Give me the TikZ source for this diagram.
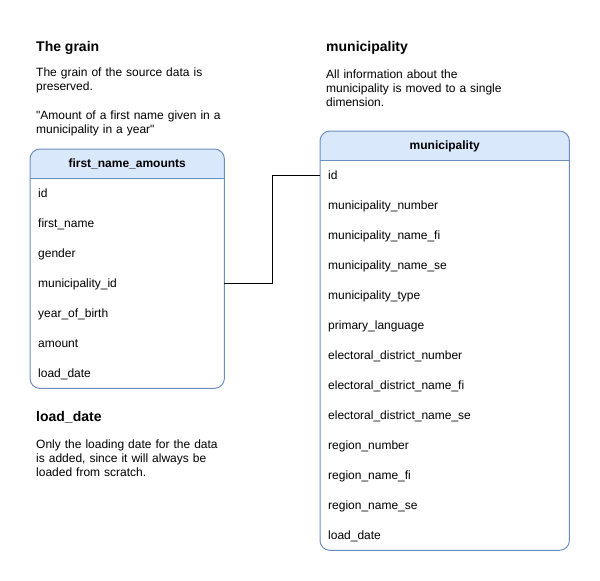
\documentclass[tikz,border=0pt]{standalone}
\usepackage{fontspec}
\setmainfont{Liberation Sans}[Ligatures=TeXOff]
\usepackage{tikz}
\usetikzlibrary{backgrounds}
\definecolor{tabline}{HTML}{6C8EBF}
\definecolor{tabhead}{HTML}{DAE8FC}
\tikzstyle{link} = [line width=1pt, draw=black]
\tikzstyle{frame} = [draw=tabline, line width=1pt, rounded corners=10pt]
\tikzstyle{headcell} = [rectangle, minimum height=29pt, inner sep=0pt, text height=9pt,
text depth=1pt, anchor=north west, font=\fontsize{12}{14.4}\selectfont\bfseries]
\tikzstyle{rowcell} = [rectangle, minimum height=30pt, inner xsep=8pt, inner ysep=0pt,
text height=9pt, text depth=1pt, align=left, font=\fontsize{12}{14.4}\selectfont]
\tikzstyle{heading} = [anchor=base west, inner sep=0pt, font=\fontsize{14}{16.8}\selectfont\bfseries]
\tikzstyle{remark} = [anchor=base west, inner sep=0pt, text width=190pt, align=left,
font=\fontsize{12}{14.4}\selectfont]

\begin{document}
\begin{tikzpicture}[x=1pt, y=1pt, node distance=30pt]
      \useasboundingbox (0,0) rectangle (600,-581);

      % notes
      \node (grain) [heading] at (36,-51) {The grain};
      \node (grainnote) [remark] at (36,-76) {The grain of the source data is\\ preserved.\\[14.4pt]
        "Amount of a first name given in a\\ municipality in a year"};
      \node (loadtitle) [heading] at (36,-421) {load\_date};
      \node (loadnote) [remark] at (36,-448) {Only the loading date for the data\\ is added, since it will always be\\ loaded from scratch.};
      \node (munititle) [heading] at (326,-51) {municipality};
      \node (muninote) [remark] at (326,-78) {All information about the\\ municipality is moved to a single\\ dimension.};

      % first_name_amounts
      \node (fm_head) [headcell, minimum width=194pt] at (30,-149) {first\_name\_amounts};
      \node (fm_id) [rowcell, text width=178pt, anchor=north west] at (30,-178) {id};
      \node (fm_name) [rowcell, text width=178pt, below of=fm_id] {first\_name};
      \node (fm_gender) [rowcell, text width=178pt, below of=fm_name] {gender};
      \node (fm_mid) [rowcell, text width=178pt, below of=fm_gender] {municipality\_id};
      \node (fm_year) [rowcell, text width=178pt, below of=fm_mid] {year\_of\_birth};
      \node (fm_amount) [rowcell, text width=178pt, below of=fm_year] {amount};
      \node (fm_load) [rowcell, text width=178pt, below of=fm_amount] {load\_date};

      % municipality
      \node (mu_head) [headcell, minimum width=249pt] at (320,-131) {municipality};
      \node (mu_id) [rowcell, text width=233pt, anchor=north west] at (320,-160) {id};
      \node (mu_num) [rowcell, text width=233pt, below of=mu_id] {municipality\_number};
      \node (mu_fi) [rowcell, text width=233pt, below of=mu_num] {municipality\_name\_fi};
      \node (mu_se) [rowcell, text width=233pt, below of=mu_fi] {municipality\_name\_se};
      \node (mu_type) [rowcell, text width=233pt, below of=mu_se] {municipality\_type};
      \node (mu_lang) [rowcell, text width=233pt, below of=mu_type] {primary\_language};
      \node (mu_ednum) [rowcell, text width=233pt, below of=mu_lang] {electoral\_district\_number};
      \node (mu_edfi) [rowcell, text width=233pt, below of=mu_ednum] {electoral\_district\_name\_fi};
      \node (mu_edse) [rowcell, text width=233pt, below of=mu_edfi] {electoral\_district\_name\_se};
      \node (mu_rnum) [rowcell, text width=233pt, below of=mu_edse] {region\_number};
      \node (mu_rfi) [rowcell, text width=233pt, below of=mu_rnum] {region\_name\_fi};
      \node (mu_rse) [rowcell, text width=233pt, below of=mu_rfi] {region\_name\_se};
      \node (mu_load) [rowcell, text width=233pt, below of=mu_rse] {load\_date};

      % header fills and frames
      \begin{scope}[on background layer]
        \begin{scope}
          \clip [rounded corners=10pt] (fm_head.north west) rectangle (fm_load.south east);
          \fill [tabhead] (fm_head.north west) rectangle (fm_head.south east);
        \end{scope}
        \begin{scope}
          \clip [rounded corners=10pt] (mu_head.north west) rectangle (mu_load.south east);
          \fill [tabhead] (mu_head.north west) rectangle (mu_head.south east);
        \end{scope}
      \end{scope}
      \draw [frame] (fm_head.north west) rectangle (fm_load.south east);
      \draw [frame] (mu_head.north west) rectangle (mu_load.south east);
      \draw [tabline, line width=1pt] (fm_head.south west) -- (fm_head.south east);
      \draw [tabline, line width=1pt] (mu_head.south west) -- (mu_head.south east);

      \draw [link] (fm_mid.east) -- ++(48pt,0) |- (mu_id.west);
    \end{tikzpicture}
\end{document}
